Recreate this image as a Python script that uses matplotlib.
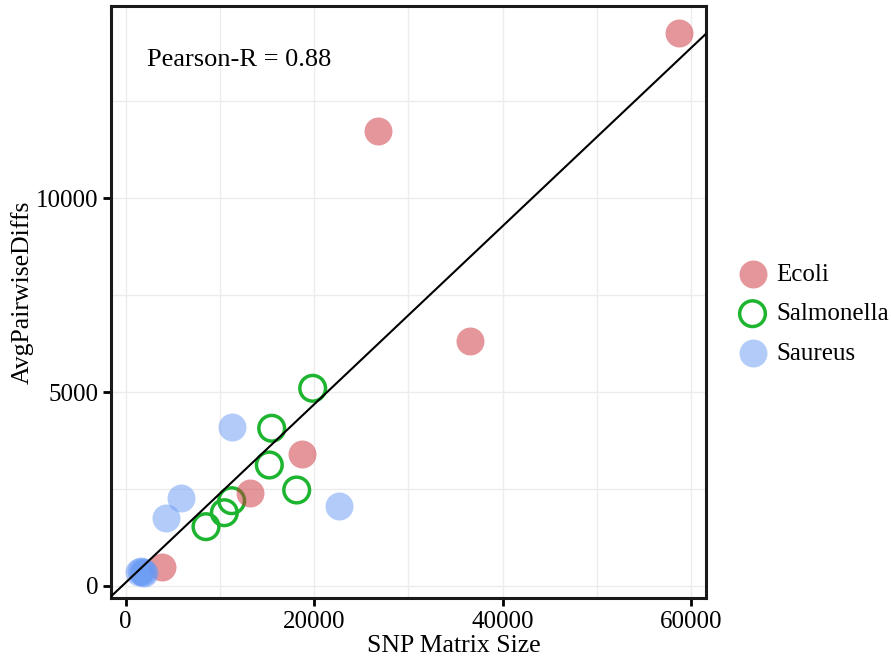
import matplotlib
matplotlib.use("Agg")
import matplotlib.pyplot as plt
import numpy as np

# valores
ecoli_x = [58740, 26780, 36580, 18750, 13195, 3822]
ecoli_y = [14263, 11736, 6327, 3405, 2391, 498]

salmo_x = [19850, 15500, 15245, 18150, 8525, 10470, 11250]
salmo_y = [5099, 4068, 3121, 2476, 1530, 1890, 2200]

saur_x = [11316, 22675, 5870, 4278, 1400, 1600, 1800, 1900]
saur_y = [4093, 2063, 2278, 1762, 350, 380, 360, 330]

fit_slope = 0.2298
fit_intercept = 88
pearson_txt = "Pearson-R = 0.88"

x_ticks = [0, 20000, 40000, 60000]
y_ticks = [0, 5000, 10000]

plt.rcParams['font.family'] = ['Liberation Serif', 'DejaVu Serif']

fig = plt.figure(figsize=(8.91, 6.58), dpi=100)
ax = fig.add_axes([111/891, 1 - 598/658, 595/891, 592/658])

# rejilla mayor y menor
ax.set_xticks(np.arange(0, 61000, 10000), minor=True)
ax.set_yticks(np.arange(0, 15000, 2500), minor=True)
ax.grid(which='both', color='#ececec', linewidth=1.0)
ax.set_axisbelow(True)

salmo = ax.scatter(salmo_x, salmo_y, s=342, facecolors='none',
                   edgecolors='#1db52f', linewidths=2.5, label='Salmonella', zorder=2)
ecoli = ax.scatter(ecoli_x, ecoli_y, s=406, color='#cb2f37', alpha=0.5,
                   linewidths=0, label='Ecoli', zorder=3)
saur = ax.scatter(saur_x, saur_y, s=406, color='#6799f5', alpha=0.5,
                  linewidths=0, label='Saureus', zorder=4)

xl = np.array([-1560, 61600])
ax.plot(xl, fit_slope * xl + fit_intercept, color='black', linewidth=1.5, zorder=5)

ax.set_xlim(-1560, 61600)
ax.set_ylim(-310, 14960)
ax.set_xticks(x_ticks)
ax.set_yticks(y_ticks)
ax.tick_params(which='minor', length=0)
ax.tick_params(which='major', direction='out', length=6, width=2, labelsize=18, pad=3)
for s in ax.spines.values():
    s.set_linewidth(2.2)
    s.set_color('#1a1a1a')

ax.text(0.0605, 0.909, pearson_txt, transform=ax.transAxes, fontsize=19, va='center', ha='left')

ax.set_xlabel("SNP Matrix Size", fontsize=18.5)
ax.set_ylabel("AvgPairwiseDiffs", fontsize=18.5)
ax.xaxis.set_label_coords(0.576, -0.062)
ax.yaxis.set_label_coords(-0.129, 0.517)

fig.legend(handles=[ecoli, salmo, saur], labels=['Ecoli', 'Salmonella', 'Saureus'],
           loc='center left', bbox_to_anchor=(740/891, 1 - 314/658),
           frameon=False, fontsize=18, borderpad=0, borderaxespad=0,
           handlelength=1.0, handletextpad=0.46, labelspacing=0.68, scatterpoints=1)

fig.savefig("out.png", dpi=100)
